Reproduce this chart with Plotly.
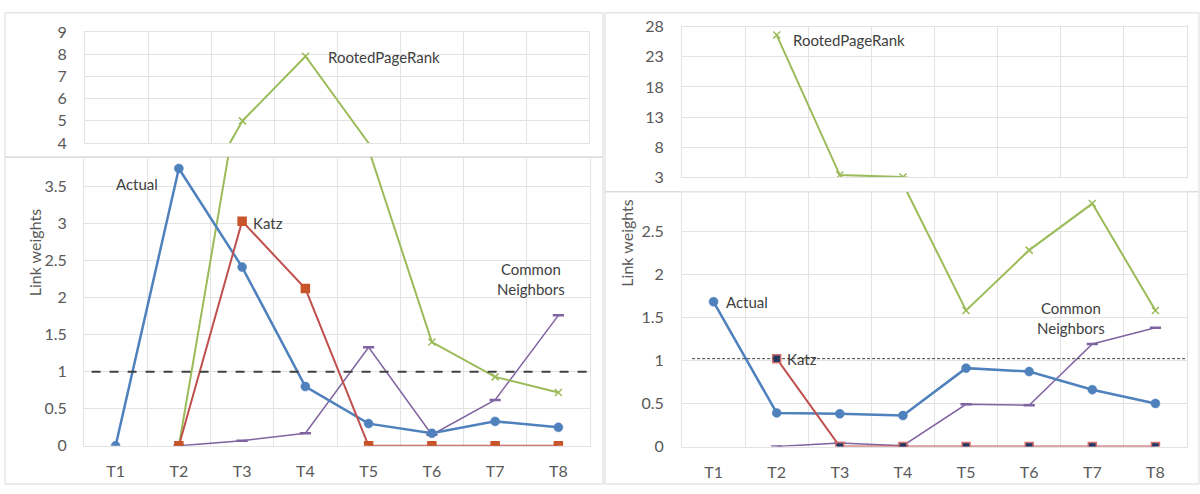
import plotly.graph_objects as go

categories = ["T1", "T2", "T3", "T4", "T5", "T6", "T7", "T8"]

# Left panel series
left_actual = [0, 3.74, 2.41, 0.80, 0.30, 0.17, 0.33, 0.25]
left_katz = [None, 0, 3.03, 2.12, 0, 0, 0, 0]
left_rpr = [None, 0, 5.0, 7.92, 4.0, 1.40, 0.93, 0.72]
left_cn = [None, 0, 0.07, 0.17, 1.33, 0.15, 0.62, 1.76]
left_threshold = 1.0

# Right panel series
right_actual = [1.68, 0.39, 0.38, 0.36, 0.91, 0.87, 0.66, 0.50]
right_katz = [None, 1.02, 0, 0, 0, 0, 0, 0]
right_rpr = [None, 26.6, 3.37, 3.05, 1.58, 2.28, 2.82, 1.58]
right_cn = [None, 0, 0.04, 0.01, 0.49, 0.48, 1.19, 1.38]
right_threshold = 1.02

# Tick values
left_top_ticks = [4, 5, 6, 7, 8, 9]
left_bot_ticks = [0, 0.5, 1, 1.5, 2, 2.5, 3, 3.5]
right_top_ticks = [3, 8, 13, 18, 23, 28]
right_bot_ticks = [0, 0.5, 1, 1.5, 2, 2.5]

W, H = 1200, 494
def px(x):
    return x / W
def py(y):
    return 1 - y / H

BLUE = "#4f81bd"
RED = "#c0504d"
GREEN = "#9bbb59"
PURPLE = "#8064a2"
GRID = "#e3e3e3"
TXT = "#595959"
FONT = "Lato"

fig = go.Figure()

def sizes(vals, lo, hi, size):
    # hide markers that fall outside this (broken) axis segment
    return [size if (v is not None and lo < v <= hi) else 0 for v in vals]

def add_series(xa, ya, lo, hi, actual, katz, rpr, cn, katz_fill, katz_edge):
    fig.add_trace(go.Scatter(x=categories, y=cn, xaxis=xa, yaxis=ya, mode="lines+markers",
                             line=dict(color=PURPLE, width=1.5),
                             marker=dict(symbol="line-ew", size=sizes(cn, lo - 0.001, hi, 8), color=PURPLE,
                                         opacity=1, line=dict(color=PURPLE, width=2.5))))
    fig.add_trace(go.Scatter(x=categories, y=rpr, xaxis=xa, yaxis=ya, mode="lines+markers",
                             line=dict(color=GREEN, width=2),
                             marker=dict(symbol="x-thin", size=sizes(rpr, lo - 0.001 if lo == 0 else lo, hi, 7),
                                         color=GREEN, opacity=1, line=dict(color=GREEN, width=1.5))))
    fig.add_trace(go.Scatter(x=categories, y=actual, xaxis=xa, yaxis=ya, mode="lines+markers",
                             line=dict(color=BLUE, width=2.5),
                             marker=dict(symbol="circle", size=sizes(actual, lo - 0.001, hi, 9), color=BLUE,
                                         opacity=1, line=dict(color=BLUE, width=0.5))))
    fig.add_trace(go.Scatter(x=categories, y=katz, xaxis=xa, yaxis=ya, mode="lines+markers",
                             line=dict(color=RED, width=2),
                             marker=dict(symbol="square", size=sizes(katz, lo - 0.001, hi, 8), color=katz_fill,
                                         opacity=1, line=dict(color=katz_edge, width=1.5))))

lb_top = (453.3 - 153) / 77.14
rb_top = (454 - 189) / 89.6

add_series("x", "y", 4, 9, left_actual, left_katz, left_rpr, left_cn, "#c8552a", "#c8552a")
add_series("x2", "y2", 0, lb_top, left_actual, left_katz, left_rpr, left_cn, "#c8552a", "#c8552a")
add_series("x3", "y3", 3, 28, right_actual, right_katz, right_rpr, right_cn, "#1f3864", "#d9706e")
add_series("x4", "y4", 0, rb_top, right_actual, right_katz, right_rpr, right_cn, "#1f3864", "#d9706e")

def xax(domain, anchor, labels):
    return dict(domain=domain, anchor=anchor, type="category", categoryarray=categories,
                categoryorder="array", range=[-0.5, 7.5], tickson="boundaries",
                showgrid=True, gridcolor=GRID, gridwidth=1, ticks="", zeroline=False,
                showline=True, mirror=True, linecolor=GRID, linewidth=1,
                showticklabels=labels, ticklabelstandoff=11,
                tickfont=dict(family=FONT, size=16, color=TXT), fixedrange=True)

def yax(domain, anchor, rng, tickvals, standoff):
    return dict(domain=domain, anchor=anchor, range=rng, tickvals=tickvals,
                showgrid=True, gridcolor=GRID, gridwidth=1, zeroline=False, ticks="",
                showline=True, mirror=True, linecolor=GRID, linewidth=1,
                ticklabelstandoff=standoff,
                tickfont=dict(family=FONT, size=16, color=TXT), fixedrange=True)

fig.update_layout(
    width=W, height=H, margin=dict(l=0, r=0, t=0, b=0),
    paper_bgcolor="white", plot_bgcolor="white", showlegend=False,
    font=dict(family=FONT, color=TXT),
    xaxis=xax([px(85), px(589)], "y", False),
    yaxis=yax([py(138.3), py(23.3)], "x", [4, 9], left_top_ticks, 14),
    xaxis2=xax([px(84), px(590)], "y2", True),
    yaxis2=yax([py(453.3), py(153)], "x2", [0, lb_top], left_bot_ticks, 13),
    xaxis3=xax([px(682), px(1187)], "y3", False),
    yaxis3=yax([py(174), py(17.3)], "x3", [3, 28], right_top_ticks, 14),
    xaxis4=xax([px(682), px(1187)], "y4", True),
    yaxis4=yax([py(454), py(189)], "x4", [0, rb_top], right_bot_ticks, 14),
)

shapes = []
# chart frames
for (x0, y0, x1, y1) in [(5, 3, 603, 153), (5, 153, 603, 493), (605, 3, 1199, 189), (605, 189, 1199, 493)]:
    shapes.append(dict(type="rect", xref="paper", yref="paper", x0=px(x0), x1=px(x1),
                       y0=py(y1), y1=py(y0), line=dict(color="#d9d9d9", width=1), layer="below"))
# threshold lines
shapes.append(dict(type="line", xref="x2", yref="y2", x0=-0.38, x1=7.45,
                   y0=left_threshold, y1=left_threshold,
                   line=dict(color="#404040", width=2, dash="dash")))
shapes.append(dict(type="line", xref="x4", yref="y4", x0=-0.34, x1=7.5,
                   y0=right_threshold, y1=right_threshold,
                   line=dict(color="#404040", width=1, dash="3px,2px")))
fig.update_layout(shapes=shapes)

ANN = dict(family=FONT, size=15, color="#404040")
def ann(text, x, y):
    return dict(text=text, x=px(x), y=py(y), xref="paper", yref="paper", showarrow=False,
                xanchor="center", yanchor="middle", font=ANN)

annotations = [
    ann("RootedPageRank", 384, 49),
    ann("Actual", 137, 181),
    ann("Katz", 268, 222),
    ann("Common<br>Neighbors", 531, 280),
    ann("RootedPageRank", 849, 31),
    ann("Actual", 747, 304),
    ann("Katz", 802, 363),
    ann("Common<br>Neighbors", 1071, 320),
    dict(text="Link weights", x=px(34), y=py(253), xref="paper", yref="paper", showarrow=False,
         textangle=-90, xanchor="center", yanchor="middle", font=dict(family=FONT, size=16, color=TXT)),
    dict(text="Link weights", x=px(627), y=py(243), xref="paper", yref="paper", showarrow=False,
         textangle=-90, xanchor="center", yanchor="middle", font=dict(family=FONT, size=16, color=TXT)),
]
fig.update_layout(annotations=annotations)

fig.write_html("out.html", config={"displayModeBar": False},
               post_script="document.body.style.margin='0';document.body.style.overflow='hidden';")
